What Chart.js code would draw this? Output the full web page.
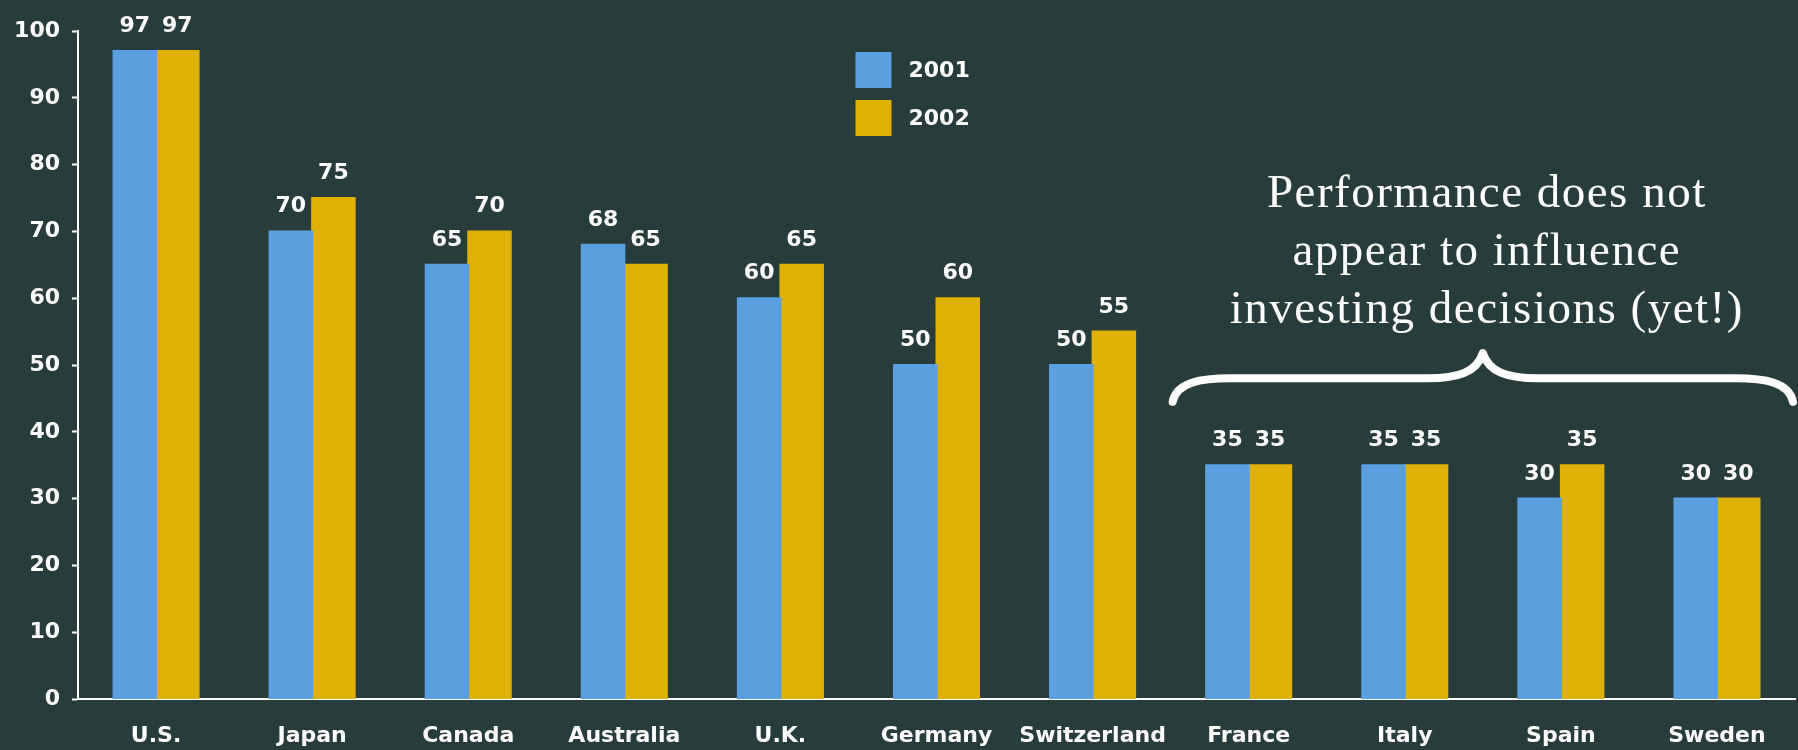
<!DOCTYPE html>
<html>
<head>
<meta charset="utf-8">
<script src="https://cdn.jsdelivr.net/npm/chart.js@4"></script>
<style>
  html, body { margin: 0; padding: 0; background: #293c3c; }
  canvas { display: block; }
</style>
</head>
<body>
<canvas id="barChart" width="1798" height="750"></canvas>
<script>
// Countries and yearly values
var countries = ['U.S.', 'Japan', 'Canada', 'Australia', 'U.K.', 'Germany', 'Switzerland', 'France', 'Italy', 'Spain', 'Sweden'];
var values2001 = [97, 70, 65, 68, 60, 50, 50, 35, 35, 30, 30];
var values2002 = [97, 75, 70, 65, 65, 60, 55, 35, 35, 35, 30];
var seriesNames = ['2001', '2002'];
var seriesColors = ['#5a9fdf', '#dfb104'];
var noteLines = ['Performance does not', 'appear to influence', 'investing decisions (yet!)'];
var noteFrom = 'France', noteTo = 'Sweden';

var sansBold = 'bold 22px "DejaVu Sans"';

// value above each bar
var valueLabels = {
    id: 'valueLabels',
    afterDatasetsDraw: function(chart) {
        var ctx = chart.ctx;
        ctx.save();
        ctx.font = sansBold;
        ctx.fillStyle = '#ffffff';
        ctx.textAlign = 'center';
        ctx.textBaseline = 'alphabetic';
        chart.data.datasets.forEach(function(ds, i) {
            chart.getDatasetMeta(i).data.forEach(function(bar, j) {
                ctx.fillText(String(ds.data[j]), bar.x, bar.y - 19);
            });
        });
        ctx.restore();
    }
};

// square swatch legend in the middle of the plot
var boxLegend = {
    id: 'boxLegend',
    afterDraw: function(chart) {
        var ctx = chart.ctx;
        var x = chart.scales.x.getPixelForValue(5) - 81;
        var y = 52;
        ctx.save();
        ctx.font = sansBold;
        ctx.textBaseline = 'middle';
        ctx.textAlign = 'left';
        chart.data.datasets.forEach(function(ds, i) {
            var top = y + i * 48;
            ctx.fillStyle = ds.backgroundColor;
            ctx.fillRect(x, top, 36, 36);
            ctx.fillStyle = '#ffffff';
            ctx.fillText(ds.label, x + 53, top + 19);
        });
        ctx.restore();
    }
};

// curly brace and note over the last group of countries
var braceNote = {
    id: 'braceNote',
    afterDraw: function(chart) {
        var ctx = chart.ctx;
        var xs = chart.scales.x, ys = chart.scales.y;
        var half = (xs.getPixelForValue(1) - xs.getPixelForValue(0)) / 2;
        var left = xs.getPixelForValue(countries.indexOf(noteFrom)) - half;
        var right = xs.getPixelForValue(countries.indexOf(noteTo)) + half;
        var mid = (left + right) / 2;
        var yEnd = ys.getPixelForValue(44.5);
        var yFlat = ys.getPixelForValue(48.0);
        var yTip = ys.getPixelForValue(51.8);

        ctx.save();
        ctx.strokeStyle = '#ffffff';
        ctx.lineWidth = 8;
        ctx.lineCap = 'round';
        ctx.lineJoin = 'round';
        ctx.beginPath();
        ctx.moveTo(left + 2, yEnd);
        ctx.bezierCurveTo(left + 6, yFlat + 4, left + 30, yFlat, left + 60, yFlat);
        ctx.lineTo(mid - 55, yFlat);
        ctx.bezierCurveTo(mid - 25, yFlat, mid - 6, yFlat - 6, mid, yTip);
        ctx.bezierCurveTo(mid + 6, yFlat - 6, mid + 25, yFlat, mid + 55, yFlat);
        ctx.lineTo(right - 60, yFlat);
        ctx.bezierCurveTo(right - 30, yFlat, right - 6, yFlat + 4, right - 2, yEnd);
        ctx.stroke();

        ctx.fillStyle = '#ffffff';
        ctx.font = '47px "Liberation Serif"';
        ctx.letterSpacing = '1.5px';
        ctx.textAlign = 'center';
        ctx.textBaseline = 'alphabetic';
        var base = [73.7, 65.0, 56.3];
        noteLines.forEach(function(line, i) {
            ctx.fillText(line, mid + 4, ys.getPixelForValue(base[i]));
        });
        ctx.restore();
    }
};

var ctx = document.getElementById('barChart').getContext('2d');
var barChart = new Chart(ctx, {
    type: 'bar',
    data: {
        labels: countries,
        datasets: [{
            label: seriesNames[0],
            data: values2001,
            backgroundColor: seriesColors[0]
        }, {
            label: seriesNames[1],
            data: values2002,
            backgroundColor: seriesColors[1]
        }]
    },
    options: {
        responsive: false,
        animation: false,
        devicePixelRatio: 1,
        layout: {
            padding: { top: 31, right: 3, left: 0, bottom: 0 }
        },
        datasets: {
            bar: {
                categoryPercentage: 0.545,
                barPercentage: 1.0,
                borderWidth: 0,
                inflateAmount: 1
            }
        },
        scales: {
            x: {
                afterFit: function(scale) { scale.height = 51; },
                border: { display: true, color: '#ffffff', width: 2 },
                grid: { drawOnChartArea: false, drawTicks: false },
                ticks: {
                    color: '#ffffff',
                    font: { family: 'DejaVu Sans', weight: 'bold', size: 22 },
                    padding: 24,
                    maxRotation: 0,
                    autoSkip: false
                }
            },
            y: {
                min: 0,
                max: 100,
                afterFit: function(scale) { scale.width = 78; },
                border: { display: true, color: '#ffffff', width: 2 },
                grid: {
                    drawOnChartArea: false,
                    drawTicks: true,
                    tickLength: 6,
                    tickWidth: 2,
                    color: '#ffffff'
                },
                ticks: {
                    stepSize: 10,
                    color: '#ffffff',
                    font: { family: 'DejaVu Sans', weight: 'bold', size: 22 },
                    padding: 12
                }
            }
        },
        plugins: {
            legend: { display: false },
            tooltip: { enabled: false }
        }
    },
    plugins: [valueLabels, boxLegend, braceNote]
});
</script>
</body>
</html>
